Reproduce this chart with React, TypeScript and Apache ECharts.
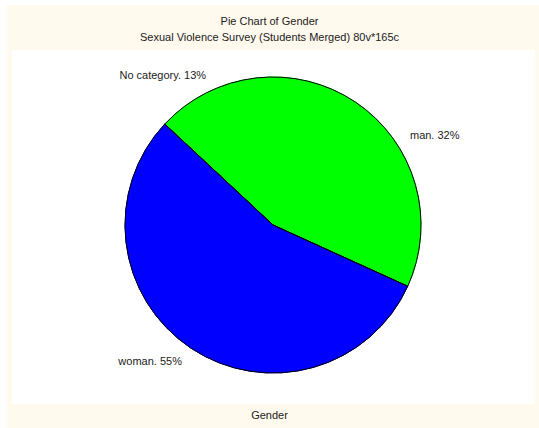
import React, { useEffect, useRef } from "react";
import * as echarts from "echarts";

const categories = ["No category", "man", "woman"];
const counts = [21, 53, 91];
const sliceColors = ["#00FF00", "#00FF00", "#0000FF"];
const titleText = "Pie Chart of Gender";
const subtitleText = "Sexual Violence Survey (Students Merged) 80v*165c";
const footerText = "Gender";

const FONT = "'Liberation Sans', Arial, Helvetica, sans-serif";

export default function App() {
  const ref = useRef<HTMLDivElement>(null);
  useEffect(() => {
    if (!ref.current) return;
    const chart = echarts.init(ref.current, undefined, { renderer: "svg" });
    const data = categories.map((c, i) => ({
      name: c,
      value: counts[i],
      itemStyle: { color: sliceColors[i], borderColor: sliceColors[i], borderWidth: 1 },
    }));
    const outline = [
      { name: "green", value: counts[0] + counts[1] },
      { name: "blue", value: counts[2] },
    ];
    const common = {
      type: "pie",
      center: [273, 225],
      radius: 148,
      startAngle: 137,
      clockwise: true,
      animation: false,
    };
    chart.setOption({
      animation: false,
      backgroundColor: "#ffffff",
      graphic: [
        {
          type: "rect",
          z: -10,
          shape: { x: 7, y: 5, width: 532, height: 423 },
          style: { fill: "#FFF9EE" },
          silent: true,
        },
        {
          type: "rect",
          z: -9,
          shape: { x: 12, y: 50, width: 523, height: 354 },
          style: { fill: "#ffffff" },
          silent: true,
        },
      ],
      title: [
        {
          text: titleText,
          left: "center",
          top: 15,
          padding: 0,
          textStyle: { fontFamily: FONT, fontSize: 11, fontWeight: "normal", color: "#222" },
        },
        {
          text: subtitleText,
          left: "center",
          top: 31,
          padding: 0,
          textStyle: { fontFamily: FONT, fontSize: 11, fontWeight: "normal", color: "#222" },
        },
        {
          text: footerText,
          left: "center",
          top: 409,
          padding: 0,
          textStyle: { fontFamily: FONT, fontSize: 11, fontWeight: "normal", color: "#222" },
        },
      ],
      series: [
        {
          ...common,
          name: "Gender",
          data,
          avoidLabelOverlap: false,
          emphasis: { disabled: true },
          label: {
            show: true,
            position: "outside",
            formatter: (p: any) => `${p.name}. ${Math.round(p.percent)}%`,
            fontFamily: FONT,
            fontSize: 11,
            color: "#222",
          },
          labelLine: { show: false, length: 16, length2: -5 },
        },
        {
          ...common,
          name: "outline",
          data: outline,
          silent: true,
          emphasis: { disabled: true },
          itemStyle: { color: "rgba(0,0,0,0)", borderColor: "#000", borderWidth: 1 },
          label: { show: false },
          labelLine: { show: false },
        },
      ],
    });
    return () => chart.dispose();
  }, []);
  return (
    <div
      ref={ref}
      style={{ position: "fixed", left: 0, top: 0, width: 539, height: 428 }}
    />
  );
}
